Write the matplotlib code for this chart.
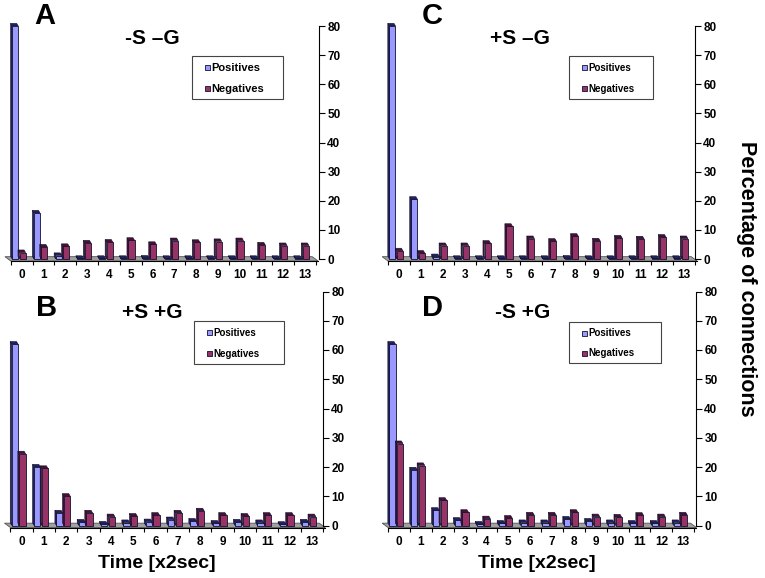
import matplotlib
matplotlib.use("Agg")
import matplotlib.pyplot as plt
from matplotlib.patches import Polygon, Rectangle
import numpy as np

plt.rcParams['font.family'] = ['Liberation Sans', 'DejaVu Sans']

# ---------------- data ----------------
time_labels = [str(i) for i in range(14)]
yticks = [0, 10, 20, 30, 40, 50, 60, 70, 80]

pos_A = [80, 15.8, 1.2, 0.2, 0.2, 0.2, 0.3, 0.2, 0.2, 0.2, 0.2, 0.2, 0.2, 0.2]
neg_A = [2.2, 4.1, 4.3, 5.5, 5.8, 6.4, 5.0, 6.3, 5.7, 6.0, 6.3, 4.8, 4.6, 4.6]

pos_B = [62, 20, 4.3, 1.2, 0.5, 1.0, 1.3, 2.0, 1.5, 0.8, 1.2, 1.0, 0.4, 1.2]
neg_B = [24.5, 19.5, 10, 4.3, 3.0, 3.2, 3.5, 4.3, 5.0, 3.5, 3.2, 3.5, 3.5, 3.0]

pos_C = [80, 20.5, 0.8, 0.2, 0.2, 0.2, 0.2, 0.2, 0.3, 0.2, 0.2, 0.2, 0.2, 0.2]
neg_C = [2.8, 2.0, 4.6, 4.6, 5.4, 11.2, 7.0, 6.1, 7.8, 6.2, 7.2, 6.9, 7.5, 7.0]

pos_D = [62, 19, 5.2, 1.8, 0.5, 0.8, 1.0, 1.0, 2.2, 1.5, 1.0, 0.8, 0.8, 1.0]
neg_D = [28, 20.5, 8.6, 4.5, 2.3, 2.5, 3.6, 3.6, 4.5, 3.0, 2.9, 3.5, 3.0, 3.6]

titles = {'A': '-S \u2013G', 'B': '+S +G', 'C': '+S \u2013G', 'D': '-S +G'}
series_names = ['Positives', 'Negatives']

# ---------------- style ----------------
W, H = 765, 578
POS_FACE, POS_SIDE = '#9999FF', '#22225e'
NEG_FACE, NEG_SIDE = '#993366', '#4a1030'
FLOOR = '#a0a0a0'

fig = plt.figure(figsize=(W / 100, H / 100), dpi=100)
fig.patch.set_facecolor('white')


def fx(x):
    return x / W


def fy(y):
    return 1 - y / H


def bar3d(ax, xs, vals, face, side, width=0.28, dx=0.07, dy=0.9):
    ax.bar(xs, vals, width=width, align='edge', color=face,
           edgecolor='#101030', linewidth=0.6, zorder=3)
    for x, v in zip(xs, vals):
        sidep = Polygon([(x - dx, dy), (x, 0), (x, v), (x - dx, v + dy)],
                        closed=True, facecolor=side, edgecolor='#101030',
                        linewidth=0.4, zorder=3)
        topp = Polygon([(x, v), (x + width, v), (x + width - dx, v + dy),
                        (x - dx, v + dy)], closed=True, facecolor=side,
                       edgecolor='#101030', linewidth=0.4, zorder=3)
        ax.add_patch(sidep)
        ax.add_patch(topp)


def panel(letter, pos, neg, x0px, x13px, axpx, leftpx, y0px, y80px,
          legbox, legfs, letter_xy, title_xy):
    ppx = (x13px - x0px) / 13.0
    xmin = (leftpx - x0px) / ppx
    xmax = 13 + (axpx - x13px) / ppx
    ppy = (y0px - y80px) / 80.0
    ylo, yhi = -0.7, 82.0
    top_px = y80px - (yhi - 80) * ppy
    bot_px = y0px - ylo * ppy
    ax = fig.add_axes([fx(leftpx), fy(bot_px), fx(axpx - leftpx),
                       (bot_px - top_px) / H])
    ax.set_xlim(xmin, xmax)
    ax.set_ylim(ylo, yhi)
    ax.patch.set_alpha(0)

    # floor
    fdx, fdy = 0.27, 1.5
    floor = Polygon([(-0.5, ylo), (13.6, ylo), (13.6 - fdx, ylo + fdy),
                     (-0.5 - fdx, ylo + fdy)], closed=True, facecolor=FLOOR,
                    edgecolor='#555555', linewidth=0.6, zorder=1,
                    clip_on=False)
    ax.add_patch(floor)

    cats = np.arange(len(pos))
    bar3d(ax, cats - 0.44, pos, POS_FACE, POS_SIDE)
    bar3d(ax, cats - 0.10, neg, NEG_FACE, NEG_SIDE)

    for s in ['top', 'left']:
        ax.spines[s].set_visible(False)
    ax.spines['bottom'].set_bounds(-0.5, 13.6)
    ax.spines['bottom'].set_linewidth(0.8)
    ax.spines['right'].set_bounds(0, 80)
    ax.spines['right'].set_linewidth(0.8)
    ax.yaxis.tick_right()
    ax.set_yticks(yticks)
    ax.set_yticklabels([str(t) for t in yticks], fontsize=8.5,
                       fontweight='bold')
    ax.tick_params(axis='y', length=4, width=0.8, pad=2)
    ax.set_xticks(cats)
    ax.set_xticklabels(time_labels, fontsize=8.5, fontweight='bold')
    ax.set_xticks(np.arange(-0.5, 14, 1.0), minor=True)
    ax.tick_params(axis='x', which='major', length=0, pad=6)
    ax.tick_params(axis='x', which='minor', length=3, width=0.8)

    # panel letter and title
    fig.text(fx(letter_xy[0]), fy(letter_xy[1]), letter, fontsize=21,
             fontweight='bold', ha='center', va='center')
    fig.text(fx(title_xy[0]), fy(title_xy[1]), titles[letter], fontsize=15,
             fontweight='bold', ha='center', va='center')

    # legend (manual box)
    lx0, ly0, lx1, ly1 = legbox
    fig.add_artist(Rectangle((fx(lx0), fy(ly1)), fx(lx1 - lx0),
                             (ly1 - ly0) / H, transform=fig.transFigure,
                             facecolor='white', edgecolor='#444444',
                             linewidth=0.8))
    rows = [(ly0 + (ly1 - ly0) * 0.27, POS_FACE),
            (ly0 + (ly1 - ly0) * 0.76, NEG_FACE)]
    for (cy, col), name in zip(rows, series_names):
        sx = lx0 + 13
        fig.add_artist(Rectangle((fx(sx), fy(cy + 2.5)), fx(5), 5 / H,
                                 transform=fig.transFigure, facecolor=col,
                                 edgecolor='#101030', linewidth=0.6))
        fig.text(fx(sx + 6.5), fy(cy), name, fontsize=legfs,
                 fontweight='bold', ha='left', va='center')
    return ax


panel('A', pos_A, neg_A, 21.7, 305, 319, 5, 259, 26,
      (192, 56, 283, 99), 8, (45, 16), (152, 39))
panel('C', pos_C, neg_C, 399, 684, 695, 382, 259, 26,
      (569, 56, 653, 99), 7, (432, 16), (520, 39))
panel('B', pos_B, neg_B, 21.7, 313, 323, 5, 525.5, 291.5,
      (194, 321, 284, 364), 7, (47, 308), (152, 313))
panel('D', pos_D, neg_D, 399, 683.3, 696, 382, 525.5, 291.5,
      (569, 322, 661, 363), 7, (432, 308), (523, 313))

fig.text(fx(157), fy(563), 'Time [x2sec]', fontsize=14, fontweight='bold',
         ha='center', va='center')
fig.text(fx(537), fy(563), 'Time [x2sec]', fontsize=14, fontweight='bold',
         ha='center', va='center')
fig.text(fx(747), fy(279), 'Percentage of connections', fontsize=15.5,
         fontweight='bold', rotation=-90, ha='center', va='center')

fig.savefig('out.png', dpi=100, facecolor='white')
